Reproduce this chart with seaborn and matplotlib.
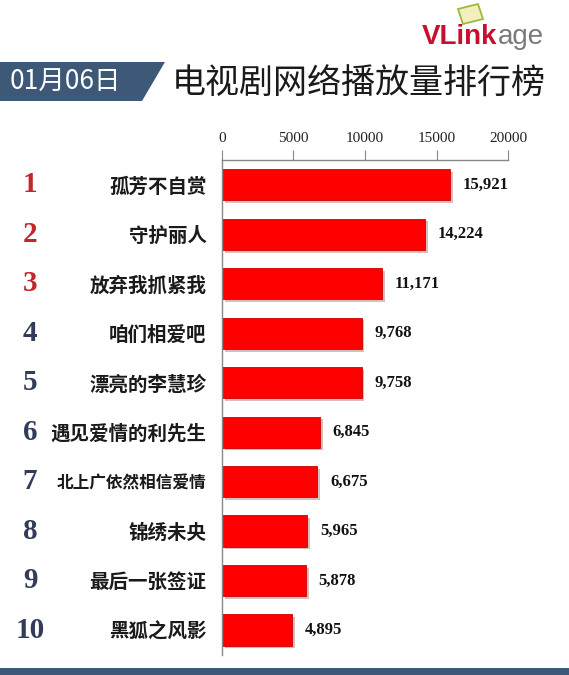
import matplotlib
matplotlib.use("Agg")
import matplotlib.pyplot as plt
import matplotlib.patheffects as pe
from matplotlib.patches import Polygon, Rectangle
from matplotlib.transforms import blended_transform_factory
import pandas as pd
import seaborn as sns

# ---------- DATA ----------
ranks = [1, 2, 3, 4, 5, 6, 7, 8, 9, 10]
titles = ["孤芳不自赏", "守护丽人", "放弃我抓紧我", "咱们相爱吧", "漂亮的李慧珍",
          "遇见爱情的利先生", "北上广依然相信爱情", "锦绣未央", "最后一张签证", "黑狐之风影"]
views = [15921, 14224, 11171, 9768, 9758, 6845, 6675, 5965, 5878, 4895]
x_ticks = [0, 5000, 10000, 15000, 20000]

df = pd.DataFrame({"rank": ranks, "title": titles, "views": views})

# ---------- STYLE ----------
sns.set_style("white")
plt.rcParams['font.family'] = ['Noto Sans CJK SC', 'DejaVu Sans']

BANNER = "#3e5878"
RED = "#ff0000"
RANK_RED = "#c0262c"
RANK_NAVY = "#323c5a"

fig = plt.figure(figsize=(5.69, 6.75), dpi=100)
ax = fig.add_axes([0.390, 0.030, 0.503, 0.733])

sns.barplot(data=df, x="views", y="title", orient="h", color=RED,
            saturation=1, width=0.63, edgecolor="#d00000", linewidth=0.6, ax=ax)

for bar in ax.patches:
    bar.set_path_effects([pe.SimplePatchShadow(offset=(2, -2), alpha=0.25),
                          pe.Normal()])

# value labels
ax.bar_label(ax.containers[0], labels=[f"{v:,}" for v in views], padding=9,
             fontsize=12, fontweight="bold", family="Liberation Serif", color="#111111")

# ---------- AXES ----------
ax.set_xlim(0, 20000)
ax.set_ylim(9.5, -0.5)
ax.xaxis.tick_top()
ax.set_xticks(x_ticks)
ax.set_xticklabels([str(t) for t in x_ticks], family="Liberation Serif",
                   fontsize=11, color="#222222")
ax.tick_params(axis="x", direction="out", length=7, color="#888888", pad=4)
ax.set_xlabel("")
ax.set_ylabel("")

ax.set_yticks(range(len(titles)))
ax.set_yticklabels(titles, fontsize=14, fontweight="bold", color="#1a1a1a")
for lbl in ax.get_yticklabels():
    if len(lbl.get_text()) > 8:
        lbl.set_fontsize(12)
ax.tick_params(axis="y", which="major", length=0, pad=11)
ax.set_yticks([i + 0.5 for i in range(len(titles) - 1)], minor=True)
ax.tick_params(axis="y", which="minor", direction="out", length=5, color="#888888")

for side in ["right", "bottom"]:
    ax.spines[side].set_visible(False)
for side in ["top", "left"]:
    ax.spines[side].set_color("#888888")
    ax.spines[side].set_linewidth(1)

# rank numbers
trans = blended_transform_factory(fig.transFigure, ax.transData)
for i, r in enumerate(ranks):
    ax.text(30 / 569, i, str(r), transform=trans, ha="center", va="center",
            fontsize=21, fontweight="bold", family="Liberation Serif",
            color=RANK_RED if r <= 3 else RANK_NAVY)

# ---------- HEADER ----------
fig.patches.append(Polygon([[0, 1 - 62 / 675], [165 / 569, 1 - 62 / 675],
                            [142 / 569, 1 - 101 / 675], [0, 1 - 101 / 675]],
                           closed=True, transform=fig.transFigure,
                           facecolor=BANNER, edgecolor="none"))
fig.text(10 / 569, 1 - 82 / 675, "01月06日", color="white", fontsize=19,
         ha="left", va="center")
fig.text(172 / 569, 1 - 84 / 675, "电视剧网络播放量排行榜", color="#1a1a1a",
         fontsize=24.5, ha="left", va="center")

# logo
fig.patches.append(Polygon([[458 / 569, 1 - 9 / 675], [478 / 569, 1 - 4 / 675],
                            [483 / 569, 1 - 19 / 675], [463 / 569, 1 - 24 / 675]],
                           closed=True, transform=fig.transFigure,
                           facecolor="#f4efc0", edgecolor="#9fb83a", linewidth=1.3))
vlink = fig.text(422 / 569, 1 - 37 / 675, "VLink", color="#c8102e", fontsize=20,
                 fontweight="bold", family="Liberation Sans", ha="left", va="center")
fig.canvas.draw()
bb = vlink.get_window_extent().transformed(fig.transFigure.inverted())
fig.text(bb.x1, 1 - 37 / 675, "age", color="#7a7a7a", fontsize=20,
         family="Liberation Sans", ha="left", va="center")

# bottom stripe
fig.patches.append(Rectangle((0, 0), 1, 7 / 675, transform=fig.transFigure,
                             facecolor=BANNER, edgecolor="none"))

fig.savefig("out.png", dpi=100)
